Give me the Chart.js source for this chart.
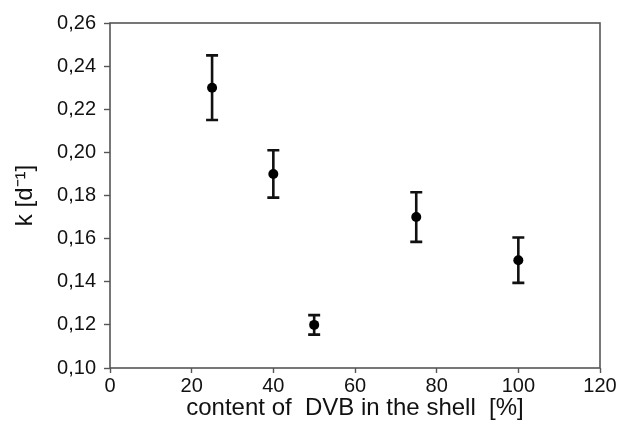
<!DOCTYPE html>
<html>
<head>
<meta charset="utf-8">
<script src="https://cdn.jsdelivr.net/npm/chart.js@4.4.1/dist/chart.umd.min.js"></script>
<style>
  html, body { margin: 0; padding: 0; background: #fff; }
  #wrap { width: 619px; height: 431px; position: relative; }
</style>
</head>
<body>
<div id="wrap"><canvas id="c" width="619" height="431"></canvas></div>
<script>
// ---- data ----
const dvbContent = [25, 40, 50, 75, 100];
const kValues    = [0.230, 0.190, 0.120, 0.170, 0.150];
const kErrors    = [0.015, 0.011, 0.0045, 0.0115, 0.0105];
const xTickValues = [0, 20, 40, 60, 80, 100, 120];
const yTickValues = [0.10, 0.12, 0.14, 0.16, 0.18, 0.20, 0.22, 0.24, 0.26];
const xTitle = 'content of  DVB in the shell  [%]';
const yTitle = 'k [d\u207B\u00B9]';

const FONT = "'Liberation Sans', Arial, Helvetica, sans-serif";
const AXIS_COLOR = '#555';
const TEXT_COLOR = '#111';

const points = dvbContent.map((x, i) => ({ x: x, y: kValues[i] }));

const errorBarPlugin = {
  id: 'errorBars',
  beforeDatasetsDraw(chart) {
    const ctx = chart.ctx;
    const xs = chart.scales.x, ys = chart.scales.y;
    ctx.save();
    ctx.strokeStyle = '#111';
    ctx.lineWidth = 2.6;
    ctx.lineCap = 'butt';
    const cap = 6;
    dvbContent.forEach((xv, i) => {
      const px = xs.getPixelForValue(xv);
      const top = ys.getPixelForValue(kValues[i] + kErrors[i]);
      const bot = ys.getPixelForValue(kValues[i] - kErrors[i]);
      ctx.beginPath();
      ctx.moveTo(px, top); ctx.lineTo(px, bot);
      ctx.moveTo(px - cap, top); ctx.lineTo(px + cap, top);
      ctx.moveTo(px - cap, bot); ctx.lineTo(px + cap, bot);
      ctx.stroke();
    });
    ctx.restore();
  }
};

const framePlugin = {
  id: 'frame',
  afterDraw(chart) {
    const a = chart.chartArea;
    const ctx = chart.ctx;
    ctx.save();
    ctx.strokeStyle = AXIS_COLOR;
    ctx.lineWidth = 1.6;
    ctx.strokeRect(a.left, a.top, a.right - a.left, a.bottom - a.top);
    ctx.restore();
  }
};

new Chart(document.getElementById('c'), {
  type: 'scatter',
  data: {
    datasets: [{
      data: points,
      pointRadius: 5,
      pointHoverRadius: 5,
      pointBackgroundColor: '#000',
      pointBorderColor: '#000',
      pointBorderWidth: 0,
      showLine: false
    }]
  },
  options: {
    responsive: false,
    animation: false,
    events: [],
    layout: { padding: { left: 0, right: 19, top: 23, bottom: 0 } },
    plugins: {
      legend: { display: false },
      tooltip: { enabled: false }
    },
    scales: {
      x: {
        type: 'linear',
        min: 0, max: 120,
        afterBuildTicks: (s) => { s.ticks = xTickValues.map(v => ({ value: v })); },
        afterFit: (s) => { s.height = 431 - 368; },
        border: { display: false },
        grid: { drawOnChartArea: false, drawTicks: true, tickLength: 5, color: AXIS_COLOR, tickWidth: 1.4 },
        ticks: {
          color: TEXT_COLOR, padding: 1,
          font: { family: FONT, size: 20 },
          maxRotation: 0,
          callback: (v) => String(v)
        },
        title: {
          display: true, text: xTitle, color: TEXT_COLOR,
          font: { family: FONT, size: 24 },
          padding: { top: 0, bottom: 8 }
        }
      },
      y: {
        type: 'linear',
        min: 0.10, max: 0.26,
        afterBuildTicks: (s) => { s.ticks = yTickValues.map(v => ({ value: v })); },
        afterFit: (s) => { s.width = 110; },
        border: { display: false },
        grid: { drawOnChartArea: false, drawTicks: true, tickLength: 6, color: AXIS_COLOR, tickWidth: 1.4 },
        ticks: {
          color: TEXT_COLOR, padding: 8,
          font: { family: FONT, size: 20 },
          callback: (v) => v.toFixed(2).replace('.', ',')
        },
        title: {
          display: true, text: yTitle, color: TEXT_COLOR,
          font: { family: FONT, size: 24 },
          padding: { top: 11, bottom: 0 }
        }
      }
    }
  },
  plugins: [errorBarPlugin, framePlugin]
});
</script>
</body>
</html>
